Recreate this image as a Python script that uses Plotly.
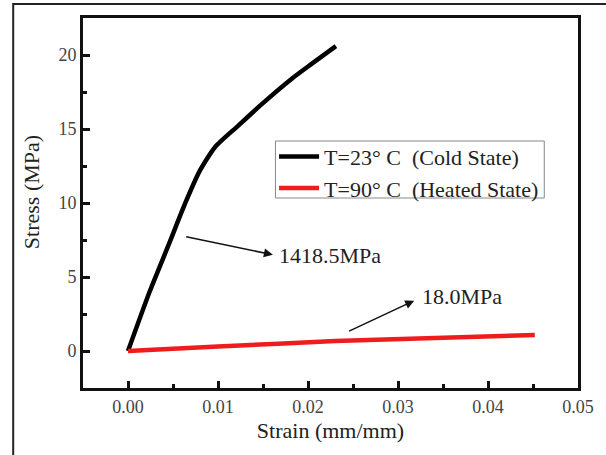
import plotly.graph_objects as go

# Data
cold_strain = [0.0, 0.0024, 0.0046, 0.0063, 0.0080, 0.0097, 0.0122, 0.0149, 0.0182, 0.0204, 0.0231]
cold_stress = [0.0, 4.0, 7.3, 9.9, 12.2, 13.8, 15.2, 16.7, 18.4, 19.4, 20.6]
hot_strain = [0.0, 0.010, 0.023, 0.0452]
hot_stress = [0.0, 0.30, 0.67, 1.08]

cold_name = "T=23°\u00a0C\u00a0\u00a0(Cold State)"
hot_name = "T=90°\u00a0C\u00a0\u00a0(Heated State)"

x_ticks = [0.00, 0.01, 0.02, 0.03, 0.04, 0.05]
x_tick_labels = ["0.00", "0.01", "0.02", "0.03", "0.04", "0.05"]
y_ticks = [0, 5, 10, 15, 20]

FONT = "Liberation Serif"

fig = go.Figure()
fig.add_trace(go.Scatter(x=cold_strain, y=cold_stress, mode="lines", name=cold_name,
                         line=dict(color="#000000", width=4.5, shape="spline", smoothing=0.6)))
fig.add_trace(go.Scatter(x=hot_strain, y=hot_stress, mode="lines", name=hot_name,
                         line=dict(color="#ee1c1c", width=4.5, shape="spline", smoothing=0.6)))

axis_common = dict(showline=True, linecolor="#111111", linewidth=3, mirror=True,
                   showgrid=False, zeroline=False, ticks="inside", ticklen=7,
                   tickwidth=3, tickcolor="#111111",
                   tickfont=dict(family=FONT, size=18, color="#444444"))

fig.update_layout(
    width=606, height=455,
    margin=dict(l=83, r=24, t=18, b=67),
    paper_bgcolor="white", plot_bgcolor="white",
    font=dict(family=FONT, color="#222222"),
    xaxis=dict(range=[-0.005, 0.05], tickvals=x_ticks, ticktext=x_tick_labels,
               minor=dict(ticks="inside", ticklen=4, tickwidth=3, tickcolor="#111111",
                          dtick=0.005, tick0=0),
               title=dict(text="Strain (mm/mm)", font=dict(family=FONT, size=22, color="#222222"),
                          standoff=8),
               **axis_common),
    yaxis=dict(range=[-2.5, 22.5], tickvals=y_ticks,
               minor=dict(ticks="inside", ticklen=4, tickwidth=3, tickcolor="#111111",
                          dtick=2.5, tick0=0),
               **axis_common),
    legend=dict(x=0.386, y=0.682, xanchor="left", yanchor="top",
                bgcolor="rgba(0,0,0,0)", borderwidth=0,
                font=dict(family=FONT, size=22, color="#222222"),
                itemwidth=40, tracegroupgap=0),
    showlegend=True,
)

# Y axis title placed as in the reference (slightly above centre)
fig.add_annotation(xref="paper", yref="paper", x=-0.104, y=0.528, text="Stress (MPa)",
                   textangle=-90, showarrow=False, xanchor="center", yanchor="middle",
                   font=dict(family=FONT, size=22, color="#222222"))

# Legend box
fig.add_shape(type="rect", xref="paper", yref="paper",
              x0=(277 - 83) / 499, x1=(548 - 83) / 499,
              y0=(388 - 198) / 370, y1=(388 - 141) / 370,
              line=dict(color="#888888", width=1), fillcolor="white", layer="below")

# Annotations with arrows
fig.add_annotation(x=0.0161, y=6.5, ax=0.0063, ay=7.74, axref="x", ayref="y",
                   xref="x", yref="y", text="", showarrow=True,
                   arrowhead=2, arrowsize=1.2, arrowwidth=1.5, arrowcolor="#111111")
fig.add_annotation(x=0.0166, y=6.44, xref="x", yref="y", text="1418.5MPa",
                   showarrow=False, xanchor="left", yanchor="middle",
                   font=dict(family=FONT, size=22, color="#222222"))
fig.add_annotation(x=0.0318, y=3.4, ax=0.0244, ay=1.3, axref="x", ayref="y",
                   xref="x", yref="y", text="", showarrow=True,
                   arrowhead=2, arrowsize=1.2, arrowwidth=1.5, arrowcolor="#111111")
fig.add_annotation(x=0.0324, y=3.67, xref="x", yref="y", text="18.0MPa",
                   showarrow=False, xanchor="left", yanchor="middle",
                   font=dict(family=FONT, size=22, color="#222222"))

# Outer frame
fig.add_shape(type="rect", xref="paper", yref="paper", x0=-0.141, x1=2.0, y0=-1.0, y1=1.038,
              line=dict(color="#222222", width=2), fillcolor="rgba(0,0,0,0)", layer="above")

fig.write_html("out.html")
